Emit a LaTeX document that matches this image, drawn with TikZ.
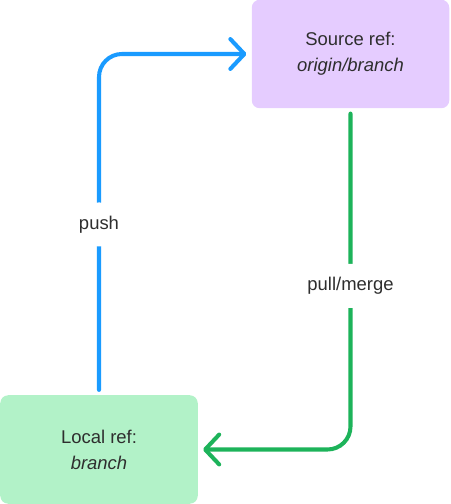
\documentclass[tikz,border=0pt]{standalone}
\usepackage{fontspec}
\setmainfont{Liberation Sans}
\usepackage{xcolor}
\usepackage{tikz}
\usetikzlibrary{arrows.meta}
\definecolor{srcfill}{HTML}{E5CCFF}
\definecolor{locfill}{HTML}{B2F2C8}
\definecolor{pushblue}{HTML}{1A9BFF}
\definecolor{pullgreen}{HTML}{1DB35A}
\definecolor{txt}{HTML}{2E2E2E}
\begin{document}
\begin{tikzpicture}[
  r/.style={rounded corners=0.16cm,minimum width=3.95cm,minimum height=2.17cm,
            align=center,font=\fontsize{10.5}{14.7}\selectfont,text=txt},
  a/.style={line width=2.3pt,line cap=round,rounded corners=0.46cm,
            shorten <=0.1cm,shorten >=0.1cm,
            -{Straight Barb[length=8pt,width=17pt,round]}},
  l/.style={fill=white,font=\fontsize{10.5}{13}\selectfont,text=txt,
            minimum height=25pt,inner xsep=2pt}
]
\useasboundingbox (0,0) rectangle (9,10.08);
\node[r,fill=srcfill] (src) at (7.01,9.0)  {Source ref:\\\textit{origin/branch}};
\node[r,fill=locfill] (loc) at (1.98,1.09) {Local ref:\\\textit{branch}};
\draw[a,draw=pushblue](loc.north) |- node[l,pos=0.25]{push} (src.west);
\draw[a,draw=pullgreen](src.south) |- node[l,pos=0.26]{pull/merge} (loc.east);
\end{tikzpicture}
\end{document}
